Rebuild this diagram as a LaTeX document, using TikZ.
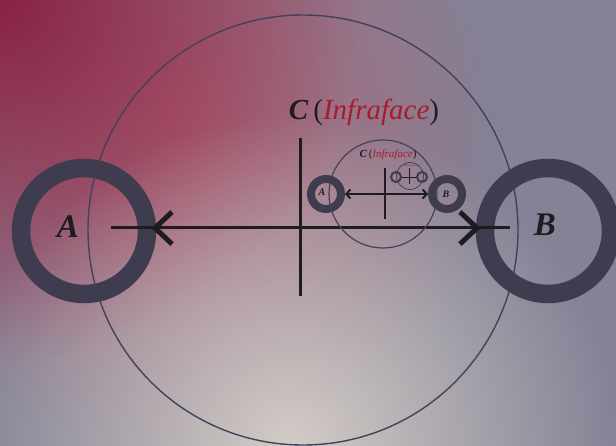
\documentclass[tikz,border=0pt]{standalone}
\usepackage{fontspec}
\setmainfont{Liberation Serif}
\usetikzlibrary{arrows.meta,fadings}

\definecolor{basegrey}{RGB}{131,130,150}
\definecolor{crimsonglow}{RGB}{138,34,68}
\definecolor{pinkglow}{RGB}{178,100,118}
\definecolor{beigeglow}{RGB}{212,204,198}
\definecolor{ringcol}{RGB}{62,60,78}
\definecolor{circcol}{RGB}{66,66,92}
\definecolor{inkcol}{RGB}{30,28,32}
\definecolor{infrared}{RGB}{166,28,42}

\tikzfading[name=glowfade, inner color=transparent!0, outer color=transparent!100]

\tikzset{
    ring/.style={circle, draw=ringcol, inner sep=0pt},
    outline/.style={circle, draw=circcol, inner sep=0pt},
    axis/.style={draw=inkcol, line cap=butt},
    chevron/.style={draw=inkcol, line width=5pt, line join=miter},
    label/.style={font=\itshape, text=inkcol, inner sep=0pt},
    title/.style={anchor=base, inner sep=0pt, text=inkcol}
}

\newcommand{\infra}[1]{\textbf{\textit{C}}\,(\textcolor{infrared}{\textit{#1}})}

\begin{document}
\begin{tikzpicture}[x=1pt, y=-1pt]
    % 背景
    \useasboundingbox (0,0) rectangle (616,446);
    \fill[basegrey] (0,0) rectangle (616,446);
    \begin{scope}
        \clip (0,0) rectangle (616,446);
        \fill[pinkglow, path fading=glowfade] (175,120) circle (330);
        \fill[crimsonglow, path fading=glowfade] (0,0) circle (360);
        \fill[beigeglow, path fading=glowfade] (290,446) circle (330);
    \end{scope}

    % 第一层 - 大圆
    \node[outline, line width=1.4pt, minimum size=430pt] (bigC) at (303,230) {};
    % 左右两个环
    \node[ring, line width=18.5pt, minimum size=126pt] (ringA) at (84,231) {};
    \node[ring, line width=18.5pt, minimum size=126pt] (ringB) at (548,231) {};
    \node[label, font=\bfseries\itshape\fontsize{33}{33}\selectfont] (labA) at (68,227) {A};
    \node[label, font=\bfseries\itshape\fontsize{33}{33}\selectfont] (labB) at (545,225) {B};
    % 十字
    \coordinate (hL) at (111,228);
    \coordinate (hR) at (510,228);
    \coordinate (vT) at (300.5,138);
    \coordinate (vB) at (300.5,296);
    \draw[axis, line width=3pt] (hL) -- (hR);
    \draw[axis, line width=3pt] (vT) -- (vB);
    % 箭头
    \coordinate (tipA) at (155,228);
    \coordinate (tipB) at (477,228);
    \draw[chevron] ([shift={(17,-16)}]tipA) -- (tipA) -- ([shift={(17,16)}]tipA);
    \draw[chevron] ([shift={(-17,-16)}]tipB) -- (tipB) -- ([shift={(-17,16)}]tipB);
    \node[title, font=\fontsize{29}{29}\selectfont] (titleC) at (364,120) {\infra{Infraface}};

    % 第二层 - 小圆
    \node[outline, line width=1.2pt, minimum size=108pt] (midC) at (383,194) {};
    \node[ring, line width=8pt, minimum size=30pt] (midA) at (326,194) {};
    \node[ring, line width=8pt, minimum size=30pt] (midB) at (447,194) {};
    \node[label, font=\bfseries\itshape\fontsize{10}{10}\selectfont] (midlabA) at (322,192) {A};
    \node[label, font=\bfseries\itshape\fontsize{10}{10}\selectfont] (midlabB) at (446,194) {B};
    \coordinate (mvT) at (385,168);
    \coordinate (mvB) at (385,219);
    \draw[axis, line width=2pt] (mvT) -- (mvB);
    \draw[axis, line width=2pt, {Straight Barb[length=4pt,width=9pt]}-{Straight Barb[length=4pt,width=9pt]}]
        (midA.east) -- (midB.west);
    \node[title, font=\fontsize{11}{11}\selectfont] (midtitle) at (388,158) {\infra{Infraface}};

    % 第三层 - 最小的圆
    \node[outline, line width=0.8pt, minimum size=27pt] (tinyC) at (410,176) {};
    \node[ring, line width=2pt, minimum size=10pt] (tinyA) at (396,177) {};
    \node[ring, line width=2pt, minimum size=10pt] (tinyB) at (422,177) {};
    \coordinate (tvT) at (409,168);
    \coordinate (tvB) at (409,184);
    \draw[axis, line width=0.9pt] (tvT) -- (tvB);
    \draw[axis, line width=0.9pt] (tinyA.east) -- (tinyB.west);
    \node[title, font=\fontsize{2.6}{2.6}\selectfont] (tinytitle) at (411,167) {\infra{Infraface}};
\end{tikzpicture}
\end{document}
